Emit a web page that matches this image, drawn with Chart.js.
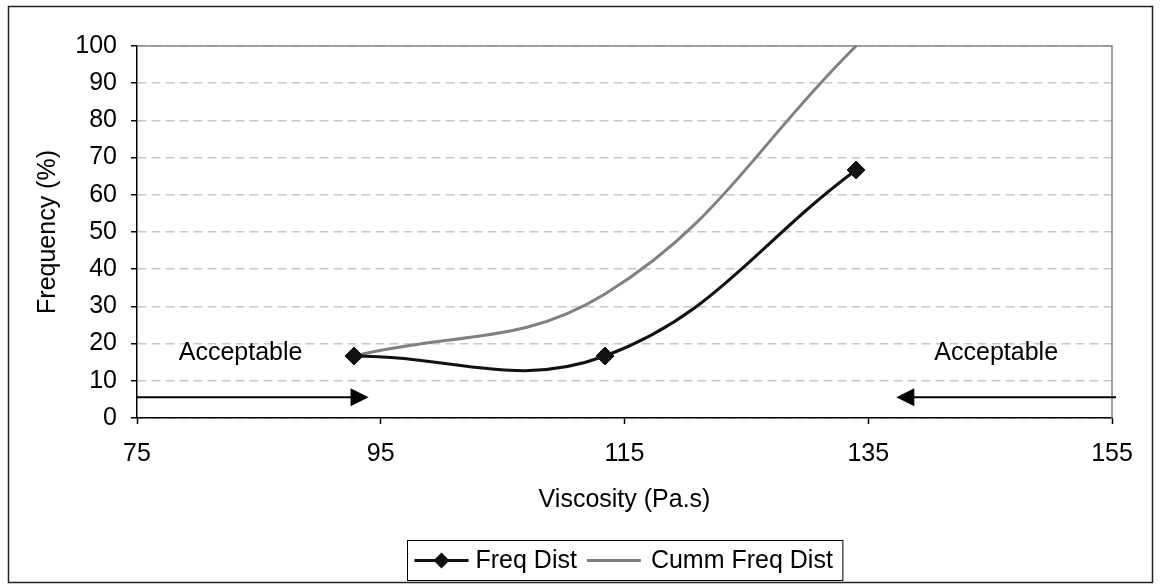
<!DOCTYPE html>
<html>
<head>
<meta charset="utf-8">
<script src="https://cdn.jsdelivr.net/npm/chart.js@4/dist/chart.umd.min.js"></script>
<style>
  body { margin: 0; background: #fff; }
  #viscChart { display: block; }
</style>
</head>
<body>
<canvas id="viscChart" width="1160" height="587"></canvas>
<script>
// bin midpoints and the two distributions (%)
const viscosity = [92.8, 113.4, 134.0];
const freqDist = [16.67, 16.67, 66.67];
const cummFreqDist = [16.67, 33.33, 100];

const seriesNames = ["Freq Dist", "Cumm Freq Dist"];
const xTicks = [75, 95, 115, 135, 155];
const yTicks = [0, 10, 20, 30, 40, 50, 60, 70, 80, 90, 100];

// acceptable-range arrows: tip positions, arrow level, label anchors
const arrowTips = [94.0, 137.3];
const arrowLevel = 5.6;
const acceptLabelX = [83.5, 145.5];
const acceptLabelY = 17.5;
const acceptText = "Acceptable";

const FONT = "'Liberation Sans', Arial, sans-serif";
const FSIZE = 25;

function toPoints(xs, ys) {
    return xs.map((x, i) => ({ x: x, y: ys[i] }));
}

// frame, arrows, labels and the boxed legend
const extras = {
    id: "extras",
    beforeDatasetsDraw(chart) {
        const { ctx, chartArea: a } = chart;
        ctx.save();
        ctx.strokeStyle = "#868686";
        ctx.lineWidth = 1.5;
        ctx.beginPath();
        ctx.moveTo(a.left, a.top);
        ctx.lineTo(a.right, a.top);
        ctx.lineTo(a.right, a.bottom);
        ctx.stroke();
        ctx.restore();
    },
    afterDraw(chart) {
        const { ctx, chartArea: a, scales } = chart;
        const xs = scales.x, ys = scales.y;
        ctx.save();

        // outer border
        ctx.strokeStyle = "#222";
        ctx.lineWidth = 1.5;
        ctx.strokeRect(8.5, 6.5, 1144, 576);

        // arrows
        const ay = ys.getPixelForValue(arrowLevel);
        const drawArrow = (from, tip) => {
            const dir = Math.sign(tip - from);
            ctx.strokeStyle = "#000";
            ctx.fillStyle = "#000";
            ctx.lineWidth = 2;
            ctx.beginPath();
            ctx.moveTo(from, ay);
            ctx.lineTo(tip - dir * 10, ay);
            ctx.stroke();
            ctx.beginPath();
            ctx.moveTo(tip, ay);
            ctx.lineTo(tip - dir * 18, ay - 9);
            ctx.lineTo(tip - dir * 18, ay + 9);
            ctx.closePath();
            ctx.fill();
        };
        drawArrow(a.left, xs.getPixelForValue(arrowTips[0]));
        drawArrow(a.right + 4, xs.getPixelForValue(arrowTips[1]));

        ctx.font = FSIZE + "px " + FONT;
        ctx.fillStyle = "#000";
        ctx.textAlign = "center";
        ctx.textBaseline = "middle";
        acceptLabelX.forEach(v => {
            ctx.fillText(acceptText, xs.getPixelForValue(v), ys.getPixelForValue(acceptLabelY));
        });

        // legend
        const ds = chart.data.datasets;
        const w0 = ctx.measureText(ds[0].label).width;
        const w1 = ctx.measureText(ds[1].label).width;
        const sample = 54;
        const total = 7 + sample + 7 + w0 + 10 + sample + 10 + w1 + 10;
        const left = Math.round((a.left + a.right) / 2 - total / 2) + 0.5;
        const top = 540.5, h = 40;
        ctx.strokeStyle = "#000";
        ctx.lineWidth = 1;
        ctx.strokeRect(left, top, total, h);
        const cy = top + h / 2;
        let x = left + 7;
        ctx.textAlign = "left";
        ds.forEach((d, i) => {
            ctx.strokeStyle = d.borderColor;
            ctx.lineWidth = 3;
            ctx.beginPath();
            ctx.moveTo(x, cy);
            ctx.lineTo(x + sample, cy);
            ctx.stroke();
            if (d.pointRadius > 0) {
                const r = 8;
                ctx.fillStyle = d.pointBackgroundColor;
                ctx.beginPath();
                ctx.moveTo(x + sample / 2 - r, cy);
                ctx.lineTo(x + sample / 2, cy - r);
                ctx.lineTo(x + sample / 2 + r, cy);
                ctx.lineTo(x + sample / 2, cy + r);
                ctx.closePath();
                ctx.fill();
            }
            x += sample + (i === 0 ? 7 : 10);
            ctx.fillStyle = "#000";
            ctx.fillText(d.label, x, cy + 1);
            x += (i === 0 ? w0 : w1) + 10;
        });
        ctx.restore();
    }
};

const ctx = document.getElementById("viscChart").getContext("2d");
new Chart(ctx, {
    type: "line",
    data: {
        datasets: [{
            label: seriesNames[0],
            data: toPoints(viscosity, freqDist),
            borderColor: "#111",
            borderWidth: 3,
            tension: 0.4,
            pointStyle: "rectRot",
            pointRadius: 9,
            pointBackgroundColor: "#111",
            pointBorderColor: "#111",
            pointBorderWidth: 1,
            clip: 6
        }, {
            label: seriesNames[1],
            data: toPoints(viscosity, cummFreqDist),
            borderColor: "#808080",
            borderWidth: 3,
            tension: 0.4,
            pointRadius: 0,
            clip: 6
        }]
    },
    options: {
        responsive: false,
        animation: false,
        layout: { padding: { left: 0, top: 46, right: 48, bottom: 69 } },
        plugins: {
            legend: { display: false },
            tooltip: { enabled: false }
        },
        scales: {
            x: {
                type: "linear",
                min: xTicks[0],
                max: xTicks[xTicks.length - 1],
                afterBuildTicks: s => { s.ticks = xTicks.map(v => ({ value: v })); },
                afterFit: s => { s.height = 100; },
                grid: { drawOnChartArea: false, tickLength: 6, tickColor: "#000", tickWidth: 1.5 },
                border: { color: "#000", width: 1.5 },
                ticks: { color: "#000", padding: 15, font: { family: FONT, size: FSIZE }, maxRotation: 0 },
                title: {
                    display: true,
                    text: "Viscosity (Pa.s)",
                    color: "#000",
                    font: { family: FONT, size: FSIZE },
                    padding: { top: 0, bottom: 3 }
                }
            },
            y: {
                min: yTicks[0],
                max: yTicks[yTicks.length - 1],
                afterBuildTicks: s => { s.ticks = yTicks.map(v => ({ value: v })); },
                afterFit: s => { s.width = 137; },
                grid: { color: "#c8c8c8", lineWidth: 1.5, tickLength: 6, tickColor: "#000", tickWidth: 1.5, tickBorderDash: [] },
                border: { color: "#000", width: 1.5, dash: [9, 5] },
                ticks: { color: "#000", padding: 14, font: { family: FONT, size: FSIZE } },
                title: {
                    display: true,
                    text: "Frequency (%)",
                    color: "#000",
                    font: { family: FONT, size: FSIZE },
                    padding: { top: 33, bottom: 0 }
                }
            }
        }
    },
    plugins: [extras]
});
</script>
</body>
</html>
